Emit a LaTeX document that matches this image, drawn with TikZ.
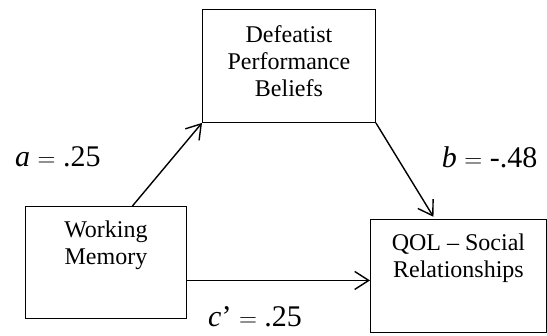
\documentclass[tikz,border=0pt]{standalone}
\usepackage{fontspec}
\setmainfont{Liberation Serif}
\usetikzlibrary{arrows.meta}

\begin{document}
\begin{tikzpicture}[x=1pt,y=1pt,every node/.style={inner sep=0pt},
  varbox/.style={draw,line width=0.9pt,align=center,anchor=north west,
    font=\fontsize{24}{27}\selectfont},
  coef/.style={anchor=base west,font=\fontsize{30}{34}\selectfont},
  effect/.style={line width=1.4pt,-{Straight Barb[length=14pt,width=18pt,line width=1.4pt]}}]
  \useasboundingbox (0,0) rectangle (547,-336);
  \node[varbox,minimum width=173pt,text height=86.7pt,text depth=26.3pt] (dpb) at (202,-9) {Defeatist\\Performance\\Beliefs};
  \node[varbox,minimum width=161pt,text height=58pt,text depth=54pt] (wm) at (25,-206) {Working\\Memory};
  \node[varbox,minimum width=176pt,text height=57.4pt,text depth=55pt] (qol) at (370,-219.3) {QOL -- Social\\Relationships};
  \node[coef] (ca) at (15,-166.7) {\textit{a} $=$ .25};
  \node[coef] (cb) at (441.7,-167.3) {\textit{b} $=$ -.48};
  \node[coef] (cc) at (208,-326.7) {\textit{c}’ $=$ .25};
  \coordinate (wmout) at ([yshift=-18pt]wm.east);
  \draw[effect] ([xshift=26.5pt]wm.north) -- (dpb.south west);
  \draw[effect] (dpb.south east) -- ([xshift=-25pt,yshift=2.5pt]qol.north);
  \draw[effect] (wmout) -- (wmout -| qol.west);
\end{tikzpicture}
\end{document}
